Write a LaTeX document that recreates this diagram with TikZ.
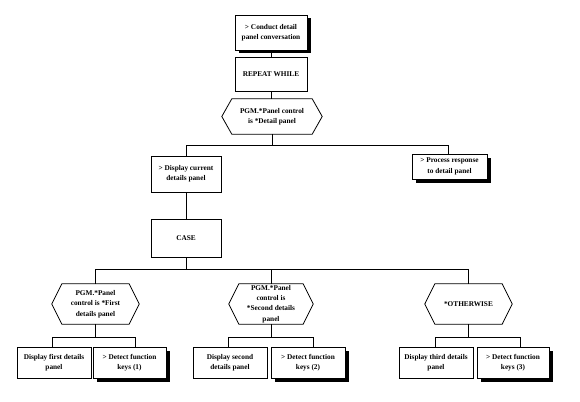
\documentclass[tikz,border=0pt]{standalone}
\usepackage{fontspec}
\setmainfont{Liberation Serif}
\usetikzlibrary{calc,shadows}
\tikzset{
  every node/.style={font=\fontsize{7.3}{10.3}\selectfont\bfseries, align=center, inner sep=0pt},
  conn/.style={draw=black, line width=0.8pt},
  plainbox/.style={draw=black, fill=white, line width=0.8pt, minimum width=#1, minimum height=31pt},
  plainbox/.default=73pt,
  shbox/.style={plainbox=#1, drop shadow={shadow xshift=3.5pt, shadow yshift=-3.5pt, fill=black, opacity=1}},
  shbox/.default=73pt,
  hexnode/.style={minimum width=#1, minimum height=40pt},
  hexline/.style={draw=black, line width=0.8pt, line join=round},
}
\newcommand{\hexdraw}[2]{%
  \draw[hexline] (#1.west) -- ($(#1.north west)+(#2,0)$) -- ($(#1.north east)+(-#2,0)$) -- (#1.east) -- ($(#1.south east)+(-#2,0)$) -- ($(#1.south west)+(#2,0)$) -- cycle;}
\begin{document}
\begin{tikzpicture}[x=1pt,y=-1pt]
\useasboundingbox (0,0) rectangle (580,401);

% top column
\node[shbox=72pt, minimum height=35pt] (top) at (271,32.5) {> Conduct detail\\panel conversation};
\node[plainbox=72pt, minimum height=34pt] (rep) at (271,74) {REPEAT WHILE};
\node[hexnode=100pt, minimum height=35pt] (h1) at (272,116.5) {PGM.*Panel control\\is *Detail panel};
\hexdraw{h1}{10}

\node[plainbox=70pt, minimum height=36pt] (disp) at (186,174) {> Display current\\details panel};
\node[shbox=75pt, minimum height=25pt] (proc) at (449.5,166.5) {> Process response\\to detail panel};
\node[plainbox=70pt, minimum height=38pt] (case) at (186,238) {CASE};

% case branches
\node[hexnode=87pt] (hL) at (95.5,304) {PGM.*Panel\\control is *First\\details panel};
\node[hexnode=84pt] (hM) at (271,304) {PGM.*Panel\\control is\\*Second details\\panel};
\node[hexnode=87pt] (hR) at (468.5,304) {*OTHERWISE};
\hexdraw{hL}{10}
\hexdraw{hM}{10}
\hexdraw{hR}{10}

% bottom boxes
\node[plainbox=74pt] (bL1) at (54,362.5) {Display first details\\panel};
\node[shbox=73pt] (bL2) at (129.5,362.5) {> Detect function\\keys (1)};
\node[plainbox=74pt] (bM1) at (230,362.5) {Display second\\details panel};
\node[shbox=74pt] (bM2) at (308,362.5) {> Detect function\\keys (2)};
\node[plainbox=74pt] (bR1) at (436,362.5) {Display third details\\panel};
\node[shbox=72pt] (bR2) at (513,362.5) {> Detect function\\keys (3)};

% connectors
\draw[conn] (top) -- (rep);
\draw[conn] (rep.south) -- (rep.south |- h1.north);
\draw[conn] (h1.south) -- ++(0,11) coordinate (j1);
\draw[conn] (disp.north) |- (j1) -| ([xshift=-1.5pt]proc.north);
\draw[conn] (disp) -- (case);
\draw[conn] (case.south) -- ++(0,12) coordinate (j2);
\draw[conn] (hL.north) |- (j2) -| (hR.north);
\draw[conn] (hM.north) -- (hM.north |- j2);

\draw[conn] (hL.south) -- ++(0,13) coordinate (jL);
\draw[conn] ([xshift=-2pt]bL1.north) |- (jL) -| ([xshift=5.5pt]bL2.north);
\draw[conn] (hM.south) -- ++(0,13) coordinate (jM);
\draw[conn] ([xshift=-2pt]bM1.north) |- (jM) -| ([xshift=5pt]bM2.north);
\draw[conn] (hR.south) -- ++(0,13) coordinate (jR);
\draw[conn] ([xshift=-1pt]bR1.north) |- (jR) -| ([xshift=7pt]bR2.north);
\end{tikzpicture}
\end{document}
